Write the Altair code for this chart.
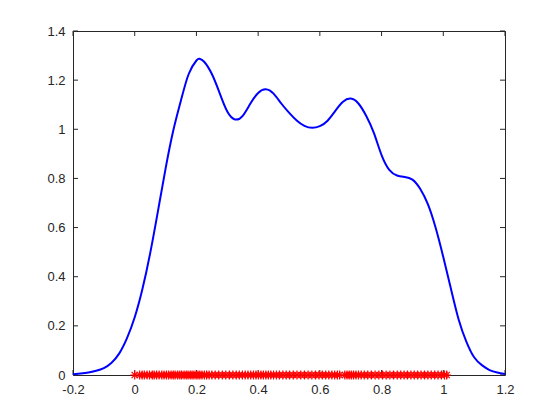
import altair as alt
import pandas as pd

# KDE curve
curve_x = [-0.2, -0.175, -0.15, -0.125, -0.1, -0.075, -0.05, -0.025, 0.0, 0.025,
           0.05, 0.075, 0.1, 0.125, 0.15, 0.175, 0.2, 0.21, 0.225, 0.25,
           0.275, 0.3, 0.325, 0.35, 0.375, 0.4, 0.425, 0.45, 0.475, 0.5,
           0.525, 0.55, 0.575, 0.6, 0.625, 0.65, 0.675, 0.7, 0.725, 0.75,
           0.775, 0.8, 0.825, 0.85, 0.875, 0.9, 0.925, 0.95, 0.975, 1.0,
           1.025, 1.05, 1.075, 1.1, 1.125, 1.15, 1.175, 1.2]
curve_y = [0.003, 0.006, 0.010, 0.017, 0.028, 0.050, 0.088, 0.150, 0.235, 0.350,
           0.495, 0.665, 0.840, 0.995, 1.118, 1.225, 1.280, 1.287, 1.275, 1.225,
           1.148, 1.072, 1.040, 1.055, 1.105, 1.148, 1.163, 1.145, 1.105, 1.068,
           1.036, 1.014, 1.006, 1.013, 1.035, 1.075, 1.112, 1.125, 1.105, 1.055,
           0.985, 0.895, 0.835, 0.812, 0.806, 0.795, 0.758, 0.695, 0.600, 0.480,
           0.350, 0.225, 0.135, 0.072, 0.040, 0.020, 0.010, 0.004]

# sample points (red stars at y = 0)
samples = [0.000, 0.016, 0.024, 0.031, 0.040, 0.048, 0.057, 0.063, 0.071, 0.079,
           0.088, 0.095, 0.103, 0.110, 0.118, 0.125, 0.131, 0.139, 0.146, 0.152,
           0.160, 0.167, 0.173, 0.180, 0.186, 0.192, 0.199, 0.205, 0.211, 0.218,
           0.226, 0.233, 0.241, 0.250, 0.261, 0.272, 0.284, 0.295, 0.307, 0.318,
           0.329, 0.339, 0.349, 0.358, 0.367, 0.376, 0.385, 0.393, 0.401, 0.409,
           0.417, 0.425, 0.433, 0.441, 0.450, 0.459, 0.469, 0.480, 0.491, 0.502,
           0.514, 0.526, 0.538, 0.550, 0.562, 0.574, 0.586, 0.597, 0.608, 0.619,
           0.629, 0.639, 0.648, 0.657, 0.664, 0.681, 0.688, 0.695, 0.702, 0.709,
           0.717, 0.725, 0.734, 0.744, 0.755, 0.767, 0.779, 0.791, 0.803, 0.815,
           0.827, 0.839, 0.851, 0.862, 0.873, 0.884, 0.895, 0.906, 0.917, 0.928,
           0.939, 0.950, 0.961, 0.972, 0.983, 0.994, 1.004, 1.011]
sample_y = [0.0] * len(samples)

x_ticks = [-0.2, 0, 0.2, 0.4, 0.6, 0.8, 1, 1.2]
y_ticks = [0, 0.2, 0.4, 0.6, 0.8, 1, 1.2, 1.4]

W, H = 432, 344
AX = "#262626"
FONT = "Liberation Sans"

curve_df = pd.DataFrame({"x": curve_x, "y": curve_y})
samp_df = pd.DataFrame({"x": samples, "y": sample_y})
xt_df = pd.DataFrame({"v": x_ticks})
yt_df = pd.DataFrame({"v": y_ticks})

lab = "replace(format(datum.value, '~g'), '\u2212', '-')"
xscale = alt.Scale(domain=[-0.2, 1.2], nice=False, zero=False)
yscale = alt.Scale(domain=[0, 1.4], nice=False, zero=False)
xaxis = alt.Axis(values=x_ticks, labelExpr=lab, tickSize=0, domain=False, grid=False,
                 labelFlush=False, labelOverlap=False, labelBound=False,
                 labelPadding=8, labelFont=FONT, labelFontSize=13, labelColor=AX, title=None)
yaxis = alt.Axis(values=y_ticks, labelExpr=lab, tickSize=0, domain=False, grid=False,
                 labelFlush=False, labelOverlap=False, labelBound=False,
                 labelPadding=8, labelFont=FONT, labelFontSize=13, labelColor=AX, title=None)

line = alt.Chart(curve_df).mark_line(color="#0000ff", strokeWidth=2, interpolate="natural").encode(
    x=alt.X("x:Q", scale=xscale, axis=xaxis),
    y=alt.Y("y:Q", scale=yscale, axis=yaxis),
)

star_path = "M-1,0L1,0M0,-1L0,1M-0.7,-0.7L0.7,0.7M-0.7,0.7L0.7,-0.7"
stars = alt.Chart(samp_df).mark_point(shape=star_path, filled=False, color="#ff0000",
                                      size=80, strokeWidth=1.2, opacity=1).encode(
    x=alt.X("x:Q", scale=xscale),
    y=alt.Y("y:Q", scale=yscale),
)

tl = 5
bt = alt.Chart(xt_df).mark_rule(color=AX, strokeWidth=1).encode(
    x=alt.X("v:Q", scale=xscale), y=alt.value(H), y2=alt.value(H - tl))
tt = alt.Chart(xt_df).mark_rule(color=AX, strokeWidth=1).encode(
    x=alt.X("v:Q", scale=xscale), y=alt.value(0), y2=alt.value(tl))
lt = alt.Chart(yt_df).mark_rule(color=AX, strokeWidth=1).encode(
    y=alt.Y("v:Q", scale=yscale), x=alt.value(0), x2=alt.value(tl))
rt = alt.Chart(yt_df).mark_rule(color=AX, strokeWidth=1).encode(
    y=alt.Y("v:Q", scale=yscale), x=alt.value(W - tl), x2=alt.value(W))

chart = alt.layer(bt, tt, lt, rt, line, stars).properties(
    width=W, height=H,
    autosize=alt.AutoSizeParams(type="none"),
    padding={"left": 65, "top": 23, "right": 40, "bottom": 35},
    background="white",
).configure_view(stroke=AX, strokeWidth=1)

chart.save("out.html", embed_options={"renderer": "svg", "actions": False})
